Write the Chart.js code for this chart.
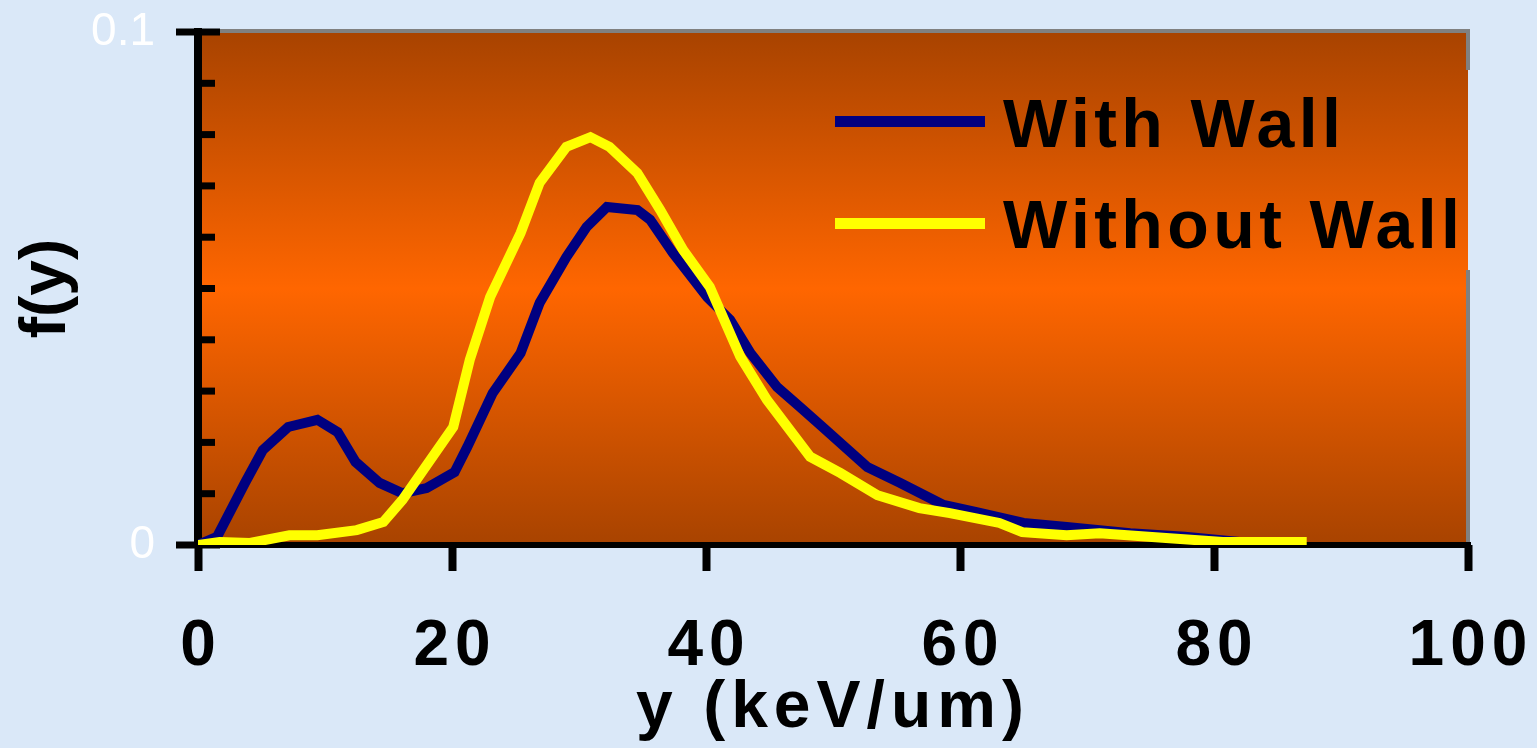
<!DOCTYPE html>
<html>
<head>
<meta charset="utf-8">
<script src="https://cdn.jsdelivr.net/npm/chart.js@4/dist/chart.umd.min.js"></script>
<style>
html,body{margin:0;padding:0;background:#dae8f8;overflow:hidden;}
#wrap{position:relative;width:1537px;height:748px;}
canvas{display:block;}
</style>
</head>
<body>
<div id="wrap"><canvas id="c" width="1537" height="748"></canvas></div>
<script>
// ---- data ----
const seriesNames = ['With Wall', 'Without Wall'];
const withWallX = [0, 1.5, 3.7, 5.1, 7.1, 9.4, 11.0, 12.4, 14.3, 16.1, 18.0, 20.2, 21.2, 23.2, 25.4, 26.9, 29.0, 30.6, 32.2, 34.6, 35.6, 37.4, 40.1, 41.9, 43.5, 45.6, 47.4, 49.0, 52.7, 55.3, 58.7, 61.3, 65.0, 68.4, 71.0, 73.4, 77.7, 82.0, 86.8];
const withWallY = [0, 0.0016, 0.0121, 0.0185, 0.0230, 0.0244, 0.0220, 0.0162, 0.0121, 0.0101, 0.0111, 0.0142, 0.0191, 0.0296, 0.0374, 0.0472, 0.0561, 0.0620, 0.0659, 0.0653, 0.0634, 0.0569, 0.0483, 0.0439, 0.0374, 0.0308, 0.0269, 0.0234, 0.0152, 0.0121, 0.0078, 0.0064, 0.0043, 0.0035, 0.0029, 0.0023, 0.0016, 0.0006, 0.0006];
const withoutWallX = [0, 1.7, 4.1, 7.2, 9.4, 12.5, 14.6, 16.1, 20.1, 21.4, 23.0, 25.4, 26.9, 29.0, 30.9, 32.4, 34.6, 36.4, 38.2, 40.3, 42.7, 44.8, 48.2, 50.6, 53.5, 56.8, 59.2, 63.1, 64.9, 68.4, 71.0, 76.5, 80.7, 87.3];
const withoutWallY = [0, 0.0006, 0.0004, 0.0019, 0.0019, 0.0029, 0.0045, 0.0088, 0.0230, 0.0361, 0.0483, 0.0608, 0.0706, 0.0776, 0.0795, 0.0776, 0.0725, 0.0653, 0.0575, 0.0503, 0.0367, 0.0283, 0.0172, 0.0140, 0.0097, 0.0072, 0.0062, 0.0043, 0.0025, 0.0019, 0.0023, 0.0013, 0.0006, 0.0006];
const xTickValues = [0, 20, 40, 60, 80, 100];
const yLabelValues = [0, 0.1];
const yMinorTickValues = [0.01, 0.02, 0.03, 0.04, 0.05, 0.06, 0.07, 0.08, 0.09];
const xTitle = 'y (keV/um)';
const yTitle = 'f(y)';

const FONT = "'Liberation Sans', Arial, Helvetica, sans-serif";
Chart.defaults.font.family = FONT;

const toPoints = (xs, ys) => xs.map((x, i) => ({x: x, y: ys[i]}));

function noPad(s) {
  s.paddingTop = 0; s.paddingBottom = 0; s.paddingLeft = 0; s.paddingRight = 0;
}

const decorPlugin = {
  id: 'decor',
  beforeDraw(chart) {
    const ctx = chart.ctx;
    const a = chart.chartArea;
    ctx.letterSpacing = '0px';
    ctx.save();
    const g = ctx.createLinearGradient(0, a.top, 0, a.bottom);
    g.addColorStop(0, '#a84300');
    g.addColorStop(0.5, '#ff6600');
    g.addColorStop(1, '#a84300');
    ctx.fillStyle = g;
    ctx.fillRect(a.left, a.top, a.right - a.left, a.bottom - a.top);
    ctx.strokeStyle = '#808080';
    ctx.lineWidth = 4;
    ctx.beginPath();
    ctx.moveTo(a.left, a.top - 1);
    ctx.lineTo(a.right + 2, a.top - 1);
    ctx.moveTo(a.right, a.top - 3);
    ctx.lineTo(a.right, 70);
    ctx.moveTo(a.right, 270);
    ctx.lineTo(a.right, a.bottom);
    ctx.stroke();
    ctx.restore();
  },
  beforeDatasetsDraw(chart) {
    const ctx = chart.ctx;
    const ys = chart.scales.y;
    const xs = chart.scales.x;
    const left = chart.chartArea.left;
    ctx.save();
    ctx.fillStyle = '#000';
    // x axis line
    ctx.fillRect(xs.left - 3, xs.top - 3, xs.right - xs.left + 6, 6);
    yMinorTickValues.forEach(v => {
      const p = ys.getPixelForValue(v);
      ctx.fillRect(left, p - 3.5, 17, 7);
    });
    yLabelValues.forEach(v => {
      const p = ys.getPixelForValue(v);
      ctx.fillRect(left - 22, p - 3.5, 44, 7);
    });
    ctx.restore();
    // spacing for the x axis labels / title drawn after the datasets
    ctx.letterSpacing = '6px';
  },
  afterDraw(chart) {
    const ctx = chart.ctx;
    ctx.save();
    ctx.letterSpacing = '0px';
    const colors = chart.data.datasets.map(d => d.borderColor);
    const rows = [121.5, 223.5];
    ctx.lineCap = 'butt';
    ctx.lineWidth = 11;
    rows.forEach((yy, i) => {
      ctx.strokeStyle = colors[i];
      ctx.beginPath();
      ctx.moveTo(835, yy);
      ctx.lineTo(985, yy);
      ctx.stroke();
    });
    ctx.letterSpacing = '4.4px';
    ctx.fillStyle = '#000';
    ctx.font = 'bold 68px ' + FONT;
    ctx.textBaseline = 'alphabetic';
    ctx.textAlign = 'left';
    ctx.fillText(seriesNames[0], 1003, 147);
    ctx.fillText(seriesNames[1], 1003, 248);
    ctx.restore();
    ctx.letterSpacing = '0px';
  }
};

new Chart(document.getElementById('c'), {
  type: 'line',
  data: {
    datasets: [
      {
        label: seriesNames[0],
        data: toPoints(withWallX, withWallY),
        borderColor: '#000080',
        borderWidth: 10,
        pointRadius: 0,
        tension: 0,
        fill: false,
        order: 1
      },
      {
        label: seriesNames[1],
        data: toPoints(withoutWallX, withoutWallY),
        borderColor: '#ffff00',
        borderWidth: 10,
        pointRadius: 0,
        tension: 0,
        fill: false,
        order: 0
      }
    ]
  },
  options: {
    responsive: false,
    animation: false,
    devicePixelRatio: 1,
    layout: {padding: {left: 0, top: 32, right: 69, bottom: 0}},
    plugins: {legend: {display: false}, tooltip: {enabled: false}},
    scales: {
      x: {
        type: 'linear',
        min: 0,
        max: 100,
        afterBuildTicks: s => { s.ticks = xTickValues.map(v => ({value: v})); },
        afterFit: s => { s.height = 203; noPad(s); },
        grid: {drawOnChartArea: false, drawTicks: true, tickLength: 26, tickWidth: 8, tickColor: '#000', z: 1},
        border: {display: false},
        ticks: {
          color: '#000',
          font: {size: 64, weight: 'bold'},
          padding: 38,
          maxRotation: 0,
          autoSkip: false,
          labelOffset: 3,
          z: 1,
          callback: v => String(v)
        },
        title: {display: true, text: xTitle, color: '#000', font: {size: 66, weight: 'bold'}, padding: {top: 0, bottom: 0}}
      },
      y: {
        type: 'linear',
        min: 0,
        max: 0.1,
        afterBuildTicks: s => { s.ticks = yLabelValues.map(v => ({value: v})); },
        afterFit: s => { s.width = 198; noPad(s); },
        grid: {drawOnChartArea: false, drawTicks: false},
        border: {display: true, color: '#000', width: 8},
        ticks: {
          color: '#ffffff',
          font: {size: 46, weight: 'normal'},
          padding: 43,
          callback: v => String(v)
        },
        title: {display: true, text: yTitle, color: '#000', font: {size: 64, weight: 'bold'}, padding: {top: 9, bottom: 0}}
      }
    }
  },
  plugins: [decorPlugin]
});
</script>
</body>
</html>
